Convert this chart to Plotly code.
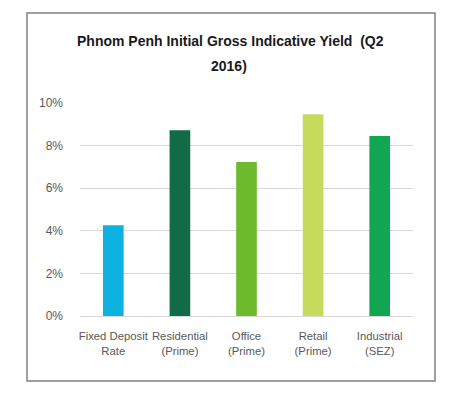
import plotly.graph_objects as go

categories = ["Fixed Deposit<br>Rate", "Residential<br>(Prime)", "Office<br>(Prime)", "Retail<br>(Prime)", "Industrial<br>(SEZ)"]
yields = [0.0426, 0.0872, 0.0723, 0.0947, 0.0845]
bar_colors = ["#0DB2E0", "#106B46", "#6DBA2C", "#C6DA5B", "#12A652"]
y_ticks = [0, 0.02, 0.04, 0.06, 0.08, 0.10]
y_tick_labels = ["0%", "2%", "4%", "6%", "8%", "10%"]
title_lines = ["Phnom Penh Initial Gross Indicative Yield  (Q2", "2016)"]

FONT = "Liberation Sans Narrow, Liberation Sans, Arial, sans-serif"

fig = go.Figure(go.Bar(
    x=categories, y=yields, marker=dict(color=bar_colors, line=dict(width=0)),
    width=0.31,
))

OFF = 8  # page body margin
W, H = 445, 388
# plot area in page pixels: x 80..413, y 103..316
L = 80 - OFF
R = W - (413 - OFF)
T = 103 - OFF
B = H - (316 - OFF)
pw, ph = W - L - R, H - T - B

def px2paper_x(px):
    return (px - OFF - L) / pw

def px2paper_y(py):
    return (H - B - (py - OFF)) / ph

title_pos = [(230, 41), (229, 66)]

fig.update_layout(
    width=W, height=H,
    margin=dict(l=L, r=R, t=T, b=B),
    paper_bgcolor="white", plot_bgcolor="white",
    showlegend=False,
    font=dict(family=FONT, color="#595959"),
    xaxis=dict(
        showgrid=False, showline=False, ticks="", tickangle=0,
        tickfont=dict(size=11.3, color="#595959"),
        ticklabelstandoff=12,
    ),
    yaxis=dict(
        range=[0, 0.10], tickvals=y_ticks, ticktext=y_tick_labels,
        showgrid=True, gridcolor="#d9d9d9", gridwidth=1,
        zeroline=True, zerolinecolor="#d9d9d9", zerolinewidth=1,
        showline=False, ticks="", ticklabelstandoff=16,
        tickfont=dict(size=12, color="#595959"),
    ),
    annotations=[
        dict(text="<b>" + t + "</b>", xref="paper", yref="paper",
             x=px2paper_x(px), y=px2paper_y(py), xanchor="center", yanchor="middle",
             showarrow=False, font=dict(family=FONT, size=14, color="#1a1a1a"))
        for t, (px, py) in zip(title_lines, title_pos)
    ],
    shapes=[dict(
        type="rect", xref="paper", yref="paper",
        x0=px2paper_x(27), x1=px2paper_x(435),
        y0=px2paper_y(381), y1=px2paper_y(13),
        line=dict(color="#808080", width=1.5), fillcolor="rgba(0,0,0,0)",
        layer="below",
    )],
)

fig.write_html("out.html")
